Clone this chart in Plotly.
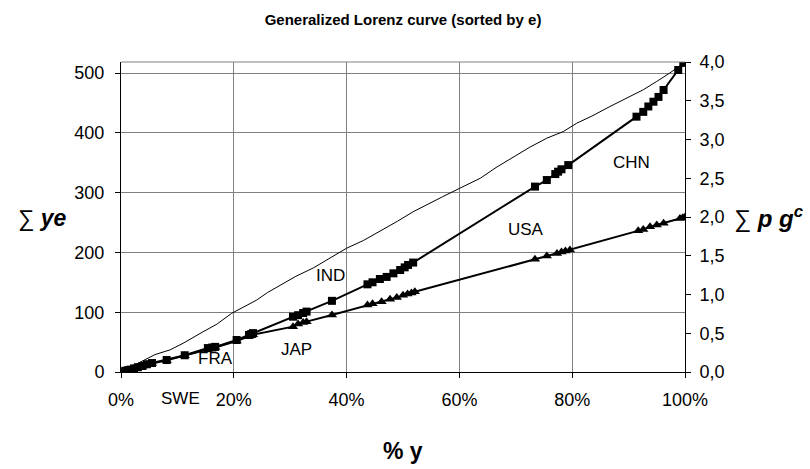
import plotly.graph_objects as go

# Thin reference curve (left axis, sum ye)
thin_x = [0, 1, 2, 3, 4.5, 6, 8.7, 11, 14.5, 17, 19.6, 22, 24, 26, 28.2, 31, 34.1, 37, 40, 43,
          45.9, 49, 51.8, 54, 57, 60, 63.7, 66.5, 69.6, 72.5, 75.5, 78.4, 80.8, 83.5, 86.7,
          89.5, 92.6, 95, 97.3, 100]
thin_y = [0, 5, 10, 15, 22, 29, 37, 48, 67, 80, 98, 110, 120, 133, 145, 160, 174, 190, 207, 220,
          235, 252, 268, 279, 293, 307, 324, 342, 360, 376, 391, 402, 416, 428, 444,
          457, 472, 486, 500, 518]

# Squares series (left axis, sum ye)
sq_x = [0, 0.4, 0.8, 1.2, 1.7, 2.3, 3.0, 3.8, 4.6, 5.5, 8.1, 11.3, 15.4, 16.2, 16.7, 20.5, 22.7,
        23.1, 23.4, 30.5, 31.4, 32.3, 32.9, 37.4, 43.7, 44.6, 45.9, 47.1, 48.3, 49.5, 50.3, 50.9,
        51.8, 73.4, 75.5, 77.0, 77.5, 78.1, 79.3, 91.4, 92.6, 93.5, 94.4, 95.3, 96.2, 98.8, 99.7, 100]
sq_y = [0, 1, 2, 3, 4, 6, 8, 10, 13, 15, 20, 28, 40, 41, 42, 53.5, 62, 63.5, 65, 92.5, 95, 98.7,
        101, 119, 146.6, 150, 155.5, 159, 165, 170.6, 175, 179, 183, 310, 321, 331, 335, 339, 346,
        427, 435, 444, 452, 460, 471.6, 505, 517, 518]

# Triangles series (right axis, sum p g^c)
tr_x = [0, 0.4, 0.8, 1.2, 1.7, 2.3, 3.0, 3.8, 4.6, 5.5, 8.1, 11.3, 15.4, 16.2, 16.7, 20.5, 22.7,
        23.1, 23.4, 30.5, 31.4, 32.3, 32.9, 37.4, 43.7, 44.6, 46.2, 47.7, 48.9, 50.0, 50.8, 51.5,
        52.1, 73.4, 75.5, 77.3, 78.1, 78.8, 79.6, 91.7, 92.6, 93.8, 95.0, 96.2, 99.1, 99.6, 100]
tr_y = [0, 0.008, 0.015, 0.023, 0.03, 0.045, 0.06, 0.075, 0.095, 0.11, 0.15, 0.21, 0.295, 0.305,
        0.315, 0.40, 0.46, 0.47, 0.48, 0.585, 0.62, 0.64, 0.65, 0.735, 0.865, 0.88, 0.907, 0.94,
        0.96, 0.99, 1.005, 1.02, 1.036, 1.454, 1.497, 1.53, 1.55, 1.56, 1.574, 1.823, 1.84, 1.875,
        1.897, 1.92, 1.98, 1.99, 2.0]

# Country labels inside the plot (x %, y on left axis)
lab_text = ["IND", "USA", "CHN", "FRA", "JAP"]
lab_x = [37.1, 71.8, 90.6, 16.8, 31.2]
lab_y = [162, 239, 351, 23.4, 36.8]

x_ticks = [0, 20, 40, 60, 80, 100]
x_ticktext = ["0%", "20%", "40%", "60%", "80%", "100%"]
y_ticks = [0, 100, 200, 300, 400, 500]
y2_ticks = [0, 0.5, 1, 1.5, 2, 2.5, 3, 3.5, 4]

FONT = "Liberation Sans, Arial, sans-serif"

fig = go.Figure()
fig.add_trace(go.Scatter(x=thin_x, y=thin_y, mode="lines",
                         line=dict(color="black", width=1), hoverinfo="skip"))
fig.add_trace(go.Scatter(x=sq_x, y=sq_y, mode="lines+markers",
                         line=dict(color="black", width=2),
                         marker=dict(symbol="square", size=8, color="black")))
fig.add_trace(go.Scatter(x=tr_x, y=tr_y, mode="lines+markers", yaxis="y2",
                         line=dict(color="black", width=2),
                         marker=dict(symbol="triangle-up", size=9, color="black")))

for t, x, y in zip(lab_text, lab_x, lab_y):
    fig.add_annotation(x=x, y=y, xref="x", yref="y", text=t, showarrow=False,
                       xanchor="center", yanchor="middle",
                       font=dict(family=FONT, size=17, color="black"))

# SWE label sits below the axis line
fig.add_annotation(x=0.106, y=-0.084, xref="paper", yref="paper", text="SWE",
                   showarrow=False, xanchor="center", yanchor="middle",
                   font=dict(family=FONT, size=17, color="black"))

fig.add_annotation(x=-0.14, y=0.497, xref="paper", yref="paper", showarrow=False,
                   xanchor="center", yanchor="middle",
                   text="∑ <b><i>ye</i></b>", font=dict(family=FONT, size=23, color="black"))
fig.add_annotation(x=1.083, y=0.5, xref="paper", yref="paper", showarrow=False,
                   xanchor="left", yanchor="middle",
                   text="∑ <b><i>p g<sup>c</sup></i></b>",
                   font=dict(family=FONT, size=24, color="black"))
fig.add_annotation(x=0.5, y=-0.255, xref="paper", yref="paper", showarrow=False,
                   xanchor="center", yanchor="middle",
                   text="<b>% y</b>", font=dict(family=FONT, size=23, color="black"))

fig.add_shape(type="line", xref="paper", yref="paper", x0=0, x1=1, y0=1, y1=1,
              line=dict(color="#808080", width=1))

fig.update_layout(
    width=810, height=469,
    margin=dict(l=121, r=125, t=62, b=97),
    paper_bgcolor="white", plot_bgcolor="white",
    showlegend=False,
    separators=", ",
    font=dict(family=FONT, color="black"),
    title=dict(text="<b>Generalized Lorenz curve (sorted by e)</b>",
               x=0.5, xref="paper", y=1 - 20 / 469, yref="container",
               xanchor="center", yanchor="middle",
               font=dict(family=FONT, size=15, color="black")),
    xaxis=dict(range=[0, 100], tickmode="array", tickvals=x_ticks, ticktext=x_ticktext,
               showgrid=True, gridcolor="#808080", gridwidth=1,
               showline=True, linecolor="black", linewidth=1,
               ticks="outside", ticklen=5, tickcolor="black", ticklabelstandoff=6,
               tickfont=dict(family=FONT, size=18), zeroline=False),
    yaxis=dict(range=[0, 518.4], tickvals=y_ticks,
               showgrid=True, gridcolor="#808080", gridwidth=1,
               showline=True, linecolor="black", linewidth=1,
               ticks="outside", ticklen=5, tickcolor="black", ticklabelstandoff=7,
               tickfont=dict(family=FONT, size=18), zeroline=False),
    yaxis2=dict(range=[0, 4], tickvals=y2_ticks, tickformat=".1f", overlaying="y",
                side="right", showgrid=False,
                showline=True, linecolor="black", linewidth=1,
                ticks="outside", ticklen=5, tickcolor="black", ticklabelstandoff=5,
                tickfont=dict(family=FONT, size=18), zeroline=False),
)

fig.write_html("out.html")
